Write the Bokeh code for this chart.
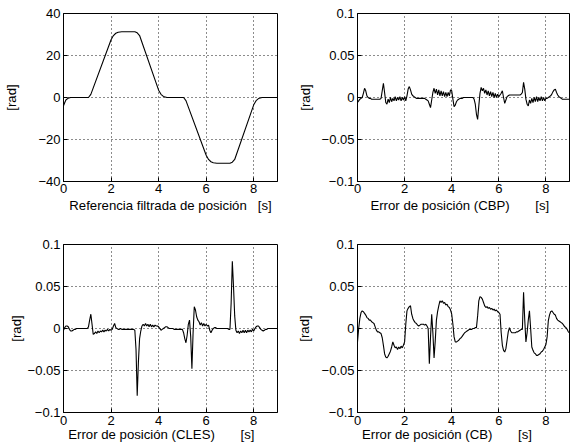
import numpy as np
from bokeh.plotting import figure
from bokeh.layouts import column, row
from bokeh.models import FixedTicker, Range1d
from bokeh.embed import file_html
from bokeh.resources import INLINE

# ---------------- data ----------------
# Filtered position reference [rad] (knots)
t_ref = [0, 0.05, 0.1, 0.2, 0.3, 0.5, 1.05, 1.15, 2.0, 2.1, 2.2, 2.3, 2.45, 3.0, 3.1, 3.2,
         4.0, 4.1, 4.2, 4.35, 5.05, 5.15, 6.0, 6.1, 6.2, 6.3, 6.45, 7.0, 7.1, 7.2,
         8.0, 8.1, 8.2, 8.35, 9.0]
v_ref = [-4, -2.5, -1.2, -0.3, 0, 0, 0, 1.5, 27.5, 29.5, 30.6, 31.1, 31.3, 31.3, 30.8, 29.5,
         3.5, 1.5, 0.5, 0, 0, -1.5, -27.5, -29.5, -30.6, -31.1, -31.3, -31.3, -30.8, -29.5,
         -3.5, -1.5, -0.5, 0, 0]

# Error series sampled every 0.05 s from 0 to 9 s, values in mrad (one row per second)
t_err = np.round(np.arange(0, 9.0001, 0.05), 2)

cbp_mrad = [
    -6, -4, -2, -1, 0, 5, 11, 8, 2, 0, -1, -1, -2, -2, -2, -2, -2, -2, -2, -2,
    -1, 8, 17, 6, -6, -8, -2, -6, 0, -5, -1, -4, 1, -4, 0, -3, 1, -4, 0, -3,
    1, -4, 2, 10, 13, 9, 4, 2, 1, 0, -1, -1, -1, -1, -1, -1, -1, -1, -2, -3,
    -4, -8, -12, -3, 6, 11, 5, 10, 3, 9, 2, 8, 2, 7, 1, 6, 1, 6, 2, 9,
    8, -2, -11, -9, -5, -3, -2, -1, -1, -1, 0, 0, 0, 0, 0, 0, 0, 0, 0, -2,
    -8, -20, -26, -10, 5, 12, 8, 11, 5, 9, 3, 8, 2, 7, 1, 6, 0, 5, 0, 4,
    1, 3, 5, 8, 0, -7, -3, 1, 2, 3, 3, 3, 3, 3, 3, 3, 3, 3, 3, 4,
    6, 18, 10, -2, -8, -10, -3, -7, -1, -6, 0, -5, 1, -5, 0, -4, 1, -4, 0, -4,
    -1, -1, 0, 1, 2, 4, 7, 9, 10, 6, 3, 1, 0, -1, -2, -2, -2, -2, -2, -2,
    -2,
]

cles_mrad = [
    -2, 1, 3, 3, 2, -1, -3, -3, -2, -1, -1, 0, 0, 0, 0, 0, 0, 0, 0, 0,
    0, 2, 10, 17, 5, -7, -6, -4, -6, -3, -5, -3, -4, -2, -4, -2, -3, -1, -3, -1,
    -2, -1, 3, 6, 1, 0, -1, -1, 0, -1, -1, -1, -1, -1, -1, -1, -1, -1, -1, -1,
    -2, -25, -80, -40, -12, -3, 3, 5, 3, 6, 3, 5, 2, 5, 2, 4, 2, 4, 3, 3,
    2, 0, -2, -1, 0, 1, 2, 2, 1, 0, 0, 0, 0, -1, -1, -1, -1, -1, -1, -1,
    -1, -5, -12, -17, -8, 5, 10, -10, -48, -5, 26, 22, 14, 10, 8, 4, 7, 3, 6, 3,
    5, 3, 4, -2, -5, -2, 0, 1, 1, 0, 0, 0, 0, 0, 0, 0, 0, 0, 0, -1,
    -1, 30, 80, 50, 15, -2, -5, -3, -6, -3, -5, -2, -5, -2, -5, -2, -4, -2, -4, -1,
    -3, 0, 2, 3, 3, 1, -1, -2, -3, -2, -1, -1, 0, 0, 0, 0, 0, 0, 0, 0,
    0,
]

cb_mrad = [
    -16, 0, 12, 19, 21, 20, 18, 16, 13, 12, 10, 10, 8, 7, 6, 2, -2, -4, -4, -5,
    -6, -11, -20, -30, -34, -35, -33, -30, -27, -22, -16, -20, -23, -22, -25, -22, -24, -21, -23, -20,
    -16, 5, 21, 24, 26, 27, 17, 12, 9, 7, 6, 4, 3, 4, 5, 5, 5, 4, 5, 3,
    0, -42, -10, 17, -5, -35, -15, 10, 20, 27, 33, 31, 33, 30, 31, 28, 29, 26, 25, 22,
    17, 5, -10, -16, -16, -15, -14, -12, -11, -9, -7, -5, -4, -3, -2, -1, -1, -1, 0, 0,
    1, 1, 15, 33, 38, 37, 35, 31, 27, 25, 26, 24, 25, 23, 24, 22, 23, 21, 22, 20,
    19, 17, -5, -20, -26, -28, -24, -14, -4, 1, -3, -5, -5, -5, -5, -4, -4, -3, -2, -1,
    -1, 43, 10, -16, -5, 10, 21, 0, -22, -26, -29, -30, -32, -32, -31, -30, -28, -27, -25, -22,
    -19, -10, 9, 16, 20, 21, 19, 17, 16, 12, 10, 9, 8, 7, 6, 4, 2, 1, -1, -4,
    -5,
]

x_ticks = [0, 2, 4, 6, 8]
ref_ticks = [-40, -20, 0, 20, 40]
err_ticks = [-0.1, -0.05, 0, 0.05, 0.1]
ref_tick_labels = {-40: "\u221240", -20: "\u221220", 0: "0", 20: "20", 40: "40"}
err_tick_labels = {-0.1: "\u22120.1", -0.05: "\u22120.05", 0: "0", 0.05: "0.05", 0.1: "0.1"}

NB = "\u00a0"
FONT = "Liberation Sans"
FS_TICK = "13px"
FS_LAB = "13.2px"


def panel(t, v, width, height, bl, br, bt, bb, yr, yticks, ylabels, xlabel,
          ylab_standoff, xlab_standoff, xtick_standoff):
    p = figure(width=width, height=height, output_backend="svg", toolbar_location=None,
               x_range=Range1d(0, 9), y_range=Range1d(*yr),
               min_border_left=bl, min_border_right=br, min_border_top=bt,
               min_border_bottom=bb)
    p.background_fill_color = "white"
    p.border_fill_color = "white"
    p.outline_line_color = "black"
    p.outline_line_width = 1
    p.outline_line_alpha = 1

    for ax in p.xaxis:
        ax.ticker = FixedTicker(ticks=x_ticks)
        ax.axis_label = xlabel
        ax.axis_label_standoff = xlab_standoff
        ax.major_label_standoff = xtick_standoff
    for ax in p.yaxis:
        ax.ticker = FixedTicker(ticks=yticks)
        ax.major_label_overrides = ylabels
        ax.axis_label = "[rad]"
        ax.axis_label_standoff = ylab_standoff
        ax.major_label_standoff = 3
    for ax in list(p.xaxis) + list(p.yaxis):
        ax.major_tick_in = 4
        ax.major_tick_out = 0
        ax.minor_tick_line_color = None
        ax.axis_line_color = "black"
        ax.major_tick_line_color = "black"
        ax.major_label_text_font = FONT
        ax.major_label_text_font_size = FS_TICK
        ax.major_label_text_color = "black"
        ax.axis_label_text_font = FONT
        ax.axis_label_text_font_size = FS_LAB
        ax.axis_label_text_font_style = "normal"
        ax.axis_label_text_color = "black"

    p.xgrid.ticker = FixedTicker(ticks=x_ticks)
    p.ygrid.ticker = FixedTicker(ticks=yticks)
    for g in (p.xgrid, p.ygrid):
        g.grid_line_color = "black"
        g.grid_line_alpha = 0.9
        g.grid_line_dash = "1 3"
        g.grid_line_width = 1

    p.line(t, v, line_color="black", line_width=1.1)
    return p


cbp = np.array(cbp_mrad) / 1000.0
cles = np.array(cles_mrad) / 1000.0
cb = np.array(cb_mrad) / 1000.0

p1 = panel(t_ref, v_ref, 285, 224, 63, 8, 13, 43, (-40, 40), ref_ticks, ref_tick_labels,
           "Referencia filtrada de posici\u00f3n" + NB * 3 + "[s]", 16, 2, 2)
p2 = panel(t_err, cbp, 285, 224, 72, 1, 13, 43, (-0.1, 0.1), err_ticks, err_tick_labels,
           "Error de posici\u00f3n (CBP)" + NB * 7 + "[s]" + NB * 2, 6, 2, 2)
p3 = panel(t_err, cles, 285, 224, 63, 8, 20, 36, (-0.1, 0.1), err_ticks, err_tick_labels,
           "Error de posici\u00f3n (CLES)" + NB * 7 + "[s]" + NB * 5, 1, -1, 3)
p4 = panel(t_err, cb, 285, 224, 72, 1, 20, 36, (-0.1, 0.1), err_ticks, err_tick_labels,
           "Error de posici\u00f3n (CB)" + NB * 7 + "[s]" + NB * 9, 7, -1, 3)

layout = column(row(p1, p2, spacing=0), row(p3, p4, spacing=0), spacing=0)
open("out.html", "w").write(file_html(layout, INLINE))
